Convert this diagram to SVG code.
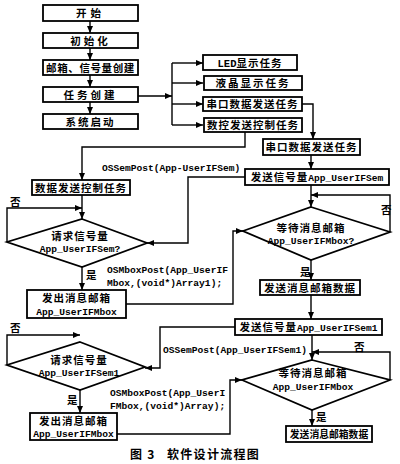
<svg xmlns="http://www.w3.org/2000/svg" width="400" height="464" viewBox="0 0 400 464">
<defs>
<style>
.b{fill:#fff;stroke:#000;stroke-width:1.8}
.c{fill:none;stroke:#000;stroke-width:1.4}
.t{font-family:"Noto Sans CJK SC","Noto Sans",sans-serif;font-size:10.5px;font-weight:bold;letter-spacing:1px;fill:#000}
.m{font-family:"Liberation Mono","DejaVu Sans Mono",monospace;font-size:9.6px;font-weight:bold;letter-spacing:0;fill:#000}
.l{font-family:"Noto Sans CJK SC",sans-serif;font-size:10.5px;font-weight:bold;fill:#000}
</style>
<marker id="a" markerWidth="7" markerHeight="6" refX="7" refY="3" orient="auto" markerUnits="userSpaceOnUse"><path d="M0,0 L7,3 L0,6 z" fill="#000"/></marker>
</defs>
<rect width="400" height="464" fill="#fff"/>
<g id="connectors">
<path class="c" d="M90,21 V33" marker-end="url(#a)"/>
<path class="c" d="M90,48 V60" marker-end="url(#a)"/>
<path class="c" d="M90,75 V87" marker-end="url(#a)"/>
<path class="c" d="M90,102 V114" marker-end="url(#a)"/>
<path class="c" d="M138,96 H172" marker-end="url(#a)"/>
<path class="c" d="M172,63 V125"/>
<path class="c" d="M172,63 H203" marker-end="url(#a)"/>
<path class="c" d="M172,83 H203" marker-end="url(#a)"/>
<path class="c" d="M172,104 H203" marker-end="url(#a)"/>
<path class="c" d="M172,125 H203" marker-end="url(#a)"/>
<path class="c" d="M302,104 H313 V139" marker-end="url(#a)"/>
<path class="c" d="M245,132 V147 H82 V180" marker-end="url(#a)"/>
<path class="c" d="M311,155 V169" marker-end="url(#a)"/>
<path class="c" d="M311,185 V207" marker-end="url(#a)"/>
<path class="c" d="M390,232 V195 H311" marker-end="url(#a)"/>
<path class="c" d="M245,177 H188 V243 H147" marker-end="url(#a)"/>
<path class="c" d="M82,195 V219" marker-end="url(#a)"/>
<path class="c" d="M7,242 V208 H82" marker-end="url(#a)"/>
<path class="c" d="M82,267 V290" marker-end="url(#a)"/>
<path class="c" d="M126,304 H233 V231 H243" marker-end="url(#a)"/>
<path class="c" d="M311,260 V280" marker-end="url(#a)"/>
<path class="c" d="M311,295 V319" marker-end="url(#a)"/>
<path class="c" d="M312,335 V360" marker-end="url(#a)"/>
<path class="c" d="M390,380 V352 H312" marker-end="url(#a)"/>
<path class="c" d="M235,327 H160 V368 H145" marker-end="url(#a)"/>
<path class="c" d="M7,365 V335 H80" marker-end="url(#a)"/>
<path class="c" d="M80,390 V413" marker-end="url(#a)"/>
<path class="c" d="M117,434 H230 V380 H242" marker-end="url(#a)"/>
<path class="c" d="M312,410 V426" marker-end="url(#a)"/>
</g>
<g id="labels">
<text class="m" x="102" y="171">OSSemPost(App-UserIFSem)</text>
<text class="m" x="107" y="273">OSMboxPost(App_UserIF</text>
<text class="m" x="107" y="286">Mbox,(void*)Array1);</text>
<text class="m" x="163" y="353">OSSemPost(App_UserIFSem1)</text>
<text class="m" x="110" y="396">OSMboxPost(App_UserI</text>
<text class="m" x="110" y="409">FMbox,(void*)Array);</text>
<text class="l" x="10" y="206">否</text>
<text class="l" x="86" y="279">是</text>
<text class="l" x="381" y="214">否</text>
<text class="l" x="300" y="276">是</text>
<text class="l" x="10" y="332">否</text>
<text class="l" x="67" y="404">是</text>
<text class="l" x="354" y="351">否</text>
<text class="l" x="316" y="421">是</text>
</g>
<g id="n1"><rect class="b" x="43" y="5" width="95" height="16"/><text class="t" x="90.5" y="17" text-anchor="middle" style="letter-spacing:4px">开始</text></g>
<g id="n2"><rect class="b" x="43" y="33" width="95" height="15"/><text class="t" x="90.5" y="44.5" text-anchor="middle" style="letter-spacing:3px">初始化</text></g>
<g id="n3"><rect class="b" x="43" y="60" width="95" height="15"/><text class="t" x="90.5" y="71.5" text-anchor="middle" style="letter-spacing:0.6px">邮箱、信号量创建</text></g>
<g id="n4"><rect class="b" x="43" y="87" width="95" height="15"/><text class="t" x="90.5" y="98.5" text-anchor="middle" style="letter-spacing:3px">任务创建</text></g>
<g id="n5"><rect class="b" x="43" y="114" width="95" height="15"/><text class="t" x="90.5" y="125.5" text-anchor="middle" style="letter-spacing:2px">系统启动</text></g>
<g id="n6"><rect class="b" x="203" y="55" width="94" height="15"/><text class="t" x="250" y="66.5" text-anchor="middle"><tspan class="m" style="font-size:10.5px">LED</tspan>显示任务</text></g>
<g id="n7"><rect class="b" x="204" y="76" width="98" height="14"/><text class="t" x="253" y="87" text-anchor="middle" style="letter-spacing:2px">液晶显示任务</text></g>
<g id="n8"><rect class="b" x="203" y="97" width="99" height="14"/><text class="t" x="252.5" y="108" text-anchor="middle">串口数据发送任务</text></g>
<g id="n9"><rect class="b" x="204" y="118" width="98" height="14"/><text class="t" x="253" y="129" text-anchor="middle">数控发送控制任务</text></g>
<g id="n10"><rect class="b" x="263" y="139" width="97" height="16"/><text class="t" x="311.5" y="151" text-anchor="middle">串口数据发送任务</text></g>
<g id="n11"><rect class="b" x="32" y="180" width="98" height="15"/><text class="t" x="81" y="191.5" text-anchor="middle">数据发送控制任务</text></g>
<g id="n12"><rect class="b" x="245" y="169" width="144" height="16"/><text class="t" x="317" y="181" text-anchor="middle">发送信号量<tspan class="m">App_UserIFSem</tspan></text></g>
<g id="n13"><polygon class="b" points="82,219 147,243 82,267 7,242"/><text class="t" x="80" y="240" text-anchor="middle">请求信号量</text><text class="m" x="80" y="252" text-anchor="middle">App_UserIFSem?</text></g>
<g id="n14"><polygon class="b" points="311,207 390,232 311,260 243,231"/><text class="t" x="311" y="232" text-anchor="middle">等待消息邮箱</text><text class="m" x="311" y="244" text-anchor="middle">App_UserIFMbox?</text></g>
<g id="n15"><rect class="b" x="27" y="290" width="99" height="28"/><text class="t" x="76.5" y="302" text-anchor="middle">发出消息邮箱</text><text class="m" x="76.5" y="315" text-anchor="middle">App_UserIFMbox</text></g>
<g id="n16"><rect class="b" x="260" y="280" width="100" height="15"/><text class="t" x="310" y="291.5" text-anchor="middle">发送消息邮箱数据</text></g>
<g id="n17"><rect class="b" x="235" y="319" width="147" height="16"/><text class="t" x="308.5" y="331" text-anchor="middle">发送信号量<tspan class="m">App_UserIFSem1</tspan></text></g>
<g id="n18"><polygon class="b" points="80,342 145,367 80,390 7,365"/><text class="t" x="79" y="364" text-anchor="middle">请求信号量</text><text class="m" x="79" y="376" text-anchor="middle">App_UserIFSem1</text></g>
<g id="n19"><polygon class="b" points="312,360 390,380 312,410 242,380"/><text class="t" x="313" y="377" text-anchor="middle">等待消息邮箱</text><text class="m" x="313" y="390" text-anchor="middle">App_UserIFMbox</text></g>
<g id="n20"><rect class="b" x="30" y="413" width="87" height="27"/><text class="t" x="73.5" y="425" text-anchor="middle">发出消息邮箱</text><text class="m" x="73.5" y="437" text-anchor="middle">App_UserIFMbox</text></g>
<g id="n21"><rect class="b" x="286" y="426" width="86" height="16"/><text class="t" x="329" y="438" text-anchor="middle" style="letter-spacing:0;font-size:9.8px">发送消息邮箱数据</text></g>
<g id="caption"><text class="t" x="130" y="459" style="font-size:12px;letter-spacing:1.3px">图 3<tspan x="167">软件设计流程图</tspan></text></g>
</svg>
